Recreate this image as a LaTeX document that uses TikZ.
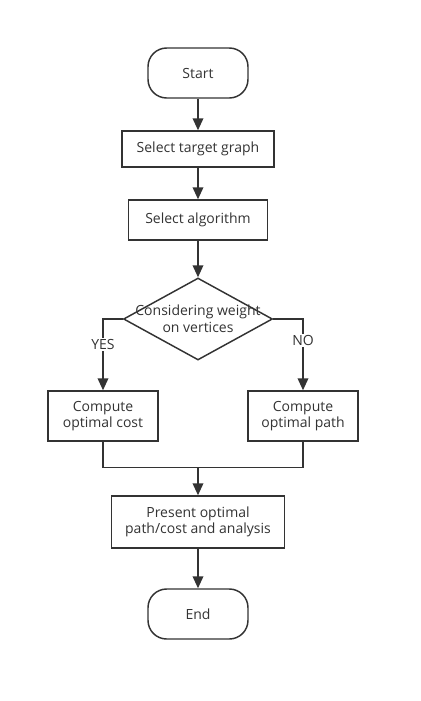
\documentclass[tikz,border=0pt]{standalone}
\usepackage{fontspec}
\setmainfont{Open Sans}
\usepackage{tikz}
\usetikzlibrary{positioning,shapes.geometric,arrows.meta}
\definecolor{ink}{HTML}{333333}

\begin{document}
\begin{tikzpicture}[auto,
    every node/.style={on grid,text=ink,font=\fontsize{10.5}{12.5}\selectfont},
    terminal/.style={draw=ink,line width=1.1pt,rounded corners=14pt,minimum width=75pt,minimum height=37.5pt},
    block/.style={draw=ink,line width=1.1pt,align=center,inner sep=0pt},
    choice/.style={draw=ink,line width=1.1pt,diamond,inner sep=0pt,minimum width=111.75pt,minimum height=61.5pt},
    flow/.style={draw=ink,line width=1.1pt,-{Triangle[length=9pt,width=8pt]}},
    line/.style={draw=ink,line width=1.1pt}]
    \useasboundingbox (-148.5pt,54.75pt) rectangle (167.25pt,-471pt);
    \node[terminal] (start) {Start};
    \node[block,below=57pt of start,minimum width=114pt,minimum height=27pt] (graph) {Select target graph};
    \node[block,below=53.25pt of graph,minimum width=104.25pt,minimum height=30pt] (algo) {Select algorithm};
    \node[choice,below=74.25pt of algo,label={[align=center,text=ink,font=\fontsize{10.5}{12.5}\selectfont]center:Considering weight\\on vertices}] (weight) {};
    \node[block,below left=72.75pt and 71.25pt of weight,minimum width=82.5pt,minimum height=37.5pt] (cost) {Compute\\optimal cost};
    \node[block,below right=72.75pt and 78.75pt of weight,minimum width=82.5pt,minimum height=37.5pt] (path) {Compute\\optimal path};
    \node[block,below=152.25pt of weight,minimum width=129.75pt,minimum height=39pt] (present) {Present optimal\\path/cost and analysis};
    \node[terminal,below=69pt of present] (end) {End};
    \coordinate[above=21pt of present.north] (merge);
    \draw[flow] (start) -- (graph);
    \draw[flow] (graph) -- (algo);
    \draw[flow] (algo) -- (weight);
    \draw[flow] (weight.west) -| node[pos=0.68,auto=false,fill=white,inner sep=1pt] {YES} (cost.north);
    \draw[flow] (weight.east) -| node[pos=0.65,auto=false,fill=white,inner sep=1pt] {NO} (path.north);
    \draw[line] (cost.south) |- (merge) -| (path.south);
    \draw[flow] (merge) -- (present);
    \draw[flow] (present) -- (end);
\end{tikzpicture}
\end{document}
